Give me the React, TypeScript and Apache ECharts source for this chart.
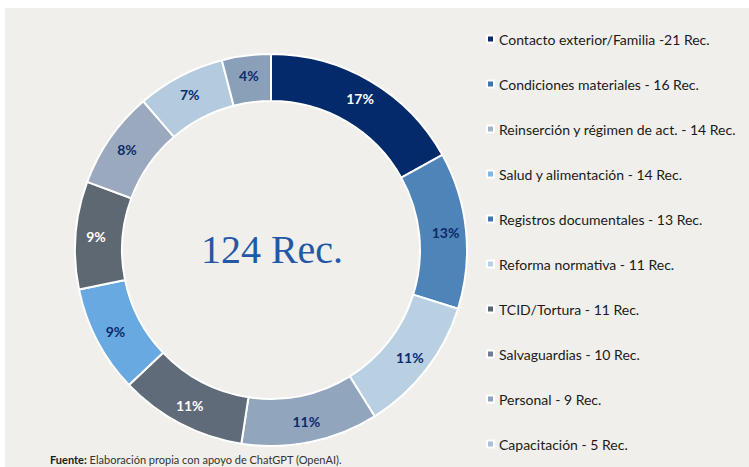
import React, { useEffect, useRef } from "react";
import * as echarts from "echarts";

const categories = [
  "Contacto exterior/Familia -21 Rec.",
  "Condiciones materiales - 16 Rec.",
  "Reinserción y régimen de act. - 14 Rec.",
  "Salud y alimentación - 14 Rec.",
  "Registros documentales - 13 Rec.",
  "Reforma normativa - 11 Rec.",
  "TCID/Tortura - 11 Rec.",
  "Salvaguardias - 10 Rec.",
  "Personal - 9 Rec.",
  "Capacitación - 5 Rec.",
];
const values = [21, 16, 14, 14, 13, 11, 11, 10, 9, 5];
const sliceColors = [
  "#042a6b", "#4e84b8", "#b9cfe2", "#91a5bd", "#5f6b78",
  "#68a9e2", "#5e6873", "#9ba9be", "#b4cade", "#8aa0b8",
];
const labelColors = [
  "#ffffff", "#0d2a6b", "#0d2a6b", "#0d2a6b", "#ffffff",
  "#0d2a6b", "#ffffff", "#0d2a6b", "#0d2a6b", "#0d2a6b",
];
const legendColors = [
  "#0d2a6b", "#3e73ad", "#a5b3c8", "#7db7e8", "#4176b0",
  "#b8cfe2", "#5a6370", "#6e7d91", "#8ea3bd", "#a8c0d8",
];
const centerText = "124 Rec.";
const sourceLabel = "Fuente:";
const sourceText = " Elaboración propia con apoyo de ChatGPT (OpenAI).";

export default function App() {
  const ref = useRef<HTMLDivElement>(null);
  useEffect(() => {
    if (!ref.current) return;
    const chart = echarts.init(ref.current, undefined, { renderer: "svg" });
    chart.setOption({
      animation: false,
      backgroundColor: "#ffffff",
      graphic: [
        {
          type: "rect",
          z: -10,
          silent: true,
          shape: { x: 5, y: 8, width: 744, height: 459 },
          style: { fill: "#f0efeb" },
        },
        {
          type: "text",
          x: 272,
          y: 249,
          style: {
            text: centerText,
            align: "center",
            verticalAlign: "middle",
            fontFamily: "Liberation Serif",
            fontSize: 40,
            fill: "#2457a6",
          },
        },
        {
          type: "text",
          left: 50,
          top: 454,
          style: {
            text: `{b|${sourceLabel}}{r|${sourceText}}`,
            rich: {
              b: { fontFamily: "Lato", fontWeight: "bold", fontSize: 11, fill: "#1a1a1a" },
              r: { fontFamily: "Lato", fontSize: 11, fill: "#333333" },
            },
          },
        },
      ],
      legend: {
        orient: "vertical",
        left: 481,
        top: 26,
        itemWidth: 7,
        itemHeight: 7,
        itemGap: 29,
        icon: "rect",
        selectedMode: false,
        textStyle: {
          fontFamily: "Lato",
          fontSize: 14,
          lineHeight: 16,
          color: "#1a1a1a",
        },
        data: categories.map((c, i) => ({
          name: c,
          itemStyle: { color: legendColors[i] },
        })),
      },
      series: [
        {
          type: "pie",
          center: [271, 250],
          radius: [149, 196],
          startAngle: 90,
          clockwise: true,
          percentPrecision: 0,
          avoidLabelOverlap: false,
          itemStyle: { borderColor: "#ffffff", borderWidth: 2 },
          label: {
            show: true,
            position: "inside",
            formatter: "{d}%",
            fontFamily: "Lato",
            fontWeight: "bold",
            fontSize: 14,
          },
          labelLine: { show: false },
          emphasis: { disabled: true },
          data: categories.map((c, i) => ({
            name: c,
            value: values[i],
            itemStyle: { color: sliceColors[i] },
            label: { color: labelColors[i] },
          })),
        },
      ],
    });
    return () => chart.dispose();
  }, []);
  return (
    <div
      ref={ref}
      style={{ position: "fixed", left: 0, top: 0, width: 749, height: 467 }}
    />
  );
}
